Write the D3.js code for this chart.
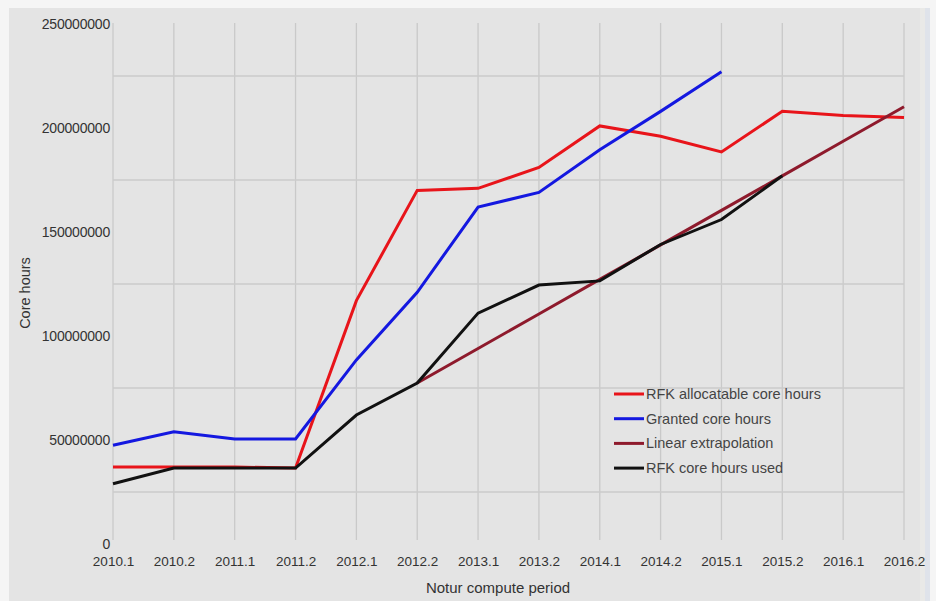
<!DOCTYPE html>
<html><head><meta charset="utf-8">
<script src="https://cdn.jsdelivr.net/npm/d3@7/dist/d3.min.js"></script>
<style>
html,body{margin:0;padding:0;background:#f5f5f5;}
svg{display:block;}
text{font-family:"Liberation Sans",Arial,sans-serif;}
</style></head><body>
<svg id="c" width="936" height="601"></svg>
<script>
const periods = ["2010.1","2010.2","2011.1","2011.2","2012.1","2012.2","2013.1","2013.2","2014.1","2014.2","2015.1","2015.2","2016.1","2016.2"];
const allocatable = [37000000,37000000,37000000,36500000,117000000,170000000,171000000,181000000,201000000,196000000,188500000,208000000,206000000,205000000];
const granted = [47500000,54000000,50500000,50500000,88500000,121000000,162000000,169000000,189500000,208000000,227000000,null,null,null];
const linearExt = [null,null,null,null,null,77400000,94000000,110600000,127200000,143800000,160400000,177000000,193600000,210200000];
const used = [29000000,36500000,36500000,36500000,62000000,77400000,111000000,124500000,126500000,144000000,156000000,177000000,null,null];
const yTicks = [0,50000000,100000000,150000000,200000000,250000000];
const yGrid = [25000000,75000000,125000000,175000000,225000000];
const seriesNames = ["RFK allocatable core hours","Granted core hours","Linear extrapolation","RFK core hours used"];
const seriesColors = ["#e8141a","#1418e0","#8e1a2c","#111111"];

const svg = d3.select("#c");
svg.append("rect").attr("x",9).attr("y",8).attr("width",919).attr("height",593).attr("fill","#e4e4e4");
svg.append("rect").attr("x",920).attr("y",8).attr("width",5).attr("height",593).attr("fill","#e9e9e7");
svg.append("rect").attr("x",925).attr("y",8).attr("width",5).attr("height",593).attr("fill","#dfe3ea");

const x = d3.scalePoint().domain(periods).range([113,904]);
const y = d3.scaleLinear().domain([0,250000000]).range([544,24]);

const g = svg.append("g");
g.selectAll(".vg").data(periods).enter().append("line")
 .attr("x1",d=>x(d)).attr("x2",d=>x(d)).attr("y1",23).attr("y2",540)
 .attr("stroke","#c9c9c9").attr("stroke-width",1.3);
g.selectAll(".hg").data(yGrid).enter().append("line")
 .attr("x1",113).attr("x2",904).attr("y1",d=>y(d)).attr("y2",d=>y(d))
 .attr("stroke","#cbcbcb").attr("stroke-width",1.3);

const yAxis = d3.axisLeft(y).tickValues(yTicks).tickSize(0).tickPadding(0).tickFormat(d=>String(d));
const ya = svg.append("g").attr("transform","translate(110,0)").call(yAxis);
ya.select(".domain").remove();
ya.selectAll("text").attr("font-size",14).attr("fill","#333").attr("font-family","Liberation Sans, Arial, sans-serif").attr("letter-spacing","-0.2");

const xAxis = d3.axisBottom(x).tickSize(0).tickPadding(0);
const xa = svg.append("g").attr("transform","translate(0,556)").call(xAxis);
xa.select(".domain").remove();
xa.selectAll("text").attr("font-size",13.5).attr("fill","#333").attr("font-family","Liberation Sans, Arial, sans-serif");

svg.append("text").attr("x",498).attr("y",593).attr("text-anchor","middle").attr("font-size",15).attr("fill","#333").text("Notur compute period");
svg.append("text").attr("transform","translate(30,293) rotate(-90)").attr("text-anchor","middle").attr("font-size",14.5).attr("fill","#333").text("Core hours");

const line = d3.line().defined(d=>d.v!==null).x(d=>x(d.p)).y(d=>y(d.v));
const seriesData = [allocatable, granted, linearExt, used];
seriesData.forEach((arr,i)=>{
  svg.append("path").datum(arr.map((v,j)=>({p:periods[j],v:v})))
   .attr("d",line).attr("fill","none").attr("stroke",seriesColors[i])
   .attr("stroke-width",3).attr("stroke-linejoin","miter");
});

const lg = svg.append("g");
seriesNames.forEach((n,i)=>{
  const yy = 394 + i*24.7;
  lg.append("line").attr("x1",614).attr("x2",644).attr("y1",yy).attr("y2",yy).attr("stroke",seriesColors[i]).attr("stroke-width",3);
  lg.append("text").attr("x",646).attr("y",yy+5).attr("font-size",14.5).attr("fill","#444").text(n);
});
</script>
</body></html>
